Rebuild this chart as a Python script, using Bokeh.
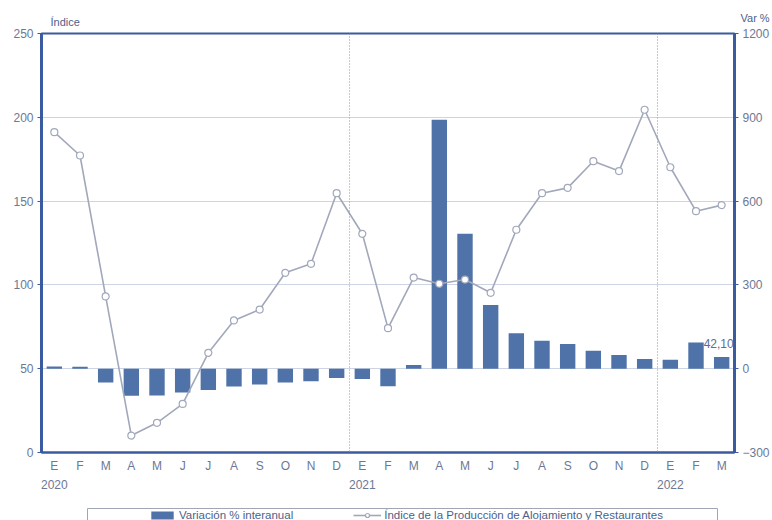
from bokeh.plotting import figure
from bokeh.layouts import column
from bokeh.models import (Range1d, LinearAxis, FixedTicker, Span, Label, Legend, LegendItem,
                          ColumnDataSource)
from bokeh.embed import file_html
from bokeh.resources import INLINE

months = ["E", "F", "M", "A", "M", "J", "J", "A", "S", "O", "N", "D",
          "E", "F", "M", "A", "M", "J", "J", "A", "S", "O", "N", "D",
          "E", "F", "M"]
years = ["2020", "2021", "2022"]
year_pos = [0, 12, 24]

indice = [191.1, 177.2, 93.1, 10.1, 17.7, 29.0, 59.5, 78.8, 85.3, 107.2, 112.6, 154.7,
          130.5, 74.2, 104.4, 100.7, 103.2, 95.3, 132.9, 154.7, 157.9, 173.8, 167.9, 204.5,
          170.2, 144.0, 147.6]
variacion = [8.0, 7.0, -49, -97, -96, -85, -76, -64, -57, -49, -45, -33,
             -37, -63, 13, 891, 483, 228, 127, 100, 88, 64, 49, 35,
             32, 94, 42.1]

AXIS = "#3b5ba0"
TICK = "#6b7896"
BAR = "#4f73a8"
LINE = "#a2a8bb"
GRID = "#cdd4e3"
TXT = "#4d5f8c"
FONT = "Liberation Sans"
W = 772


def bare(fig):
    fig.xaxis.visible = False
    fig.yaxis.visible = False
    fig.xgrid.visible = False
    fig.ygrid.visible = False
    fig.outline_line_color = None
    fig.background_fill_color = "white"
    fig.border_fill_color = "white"


# ---- header with the axis titles ----
head = figure(width=W, height=28, output_backend="svg", toolbar_location=None,
              x_range=Range1d(0, W), y_range=Range1d(0, 28), title=None,
              min_border=0, frame_align=False)
bare(head)
head.add_layout(Label(x=50, y=1, text="Índice", text_baseline="bottom", text_color=TXT,
                      text_font=FONT, text_font_size="11px"))
head.add_layout(Label(x=740, y=5, text="Var %", text_baseline="bottom", text_color=TXT,
                      text_font=FONT, text_font_size="11px"))

# ---- main chart ----
x = list(range(len(months)))
src = ColumnDataSource(dict(x=x, ind=indice, var=variacion))

p = figure(width=W, height=472, output_backend="svg", toolbar_location=None, title=None,
           x_range=Range1d(-0.5, 26.5), y_range=Range1d(0, 250), frame_align=False,
           min_border_left=41, min_border_right=36, min_border_top=5, min_border_bottom=48)
p.extra_y_ranges = {"var": Range1d(-300, 1200)}
p.background_fill_color = "white"
p.border_fill_color = "white"
p.outline_line_color = AXIS
p.outline_line_width = 2

p.yaxis.ticker = FixedTicker(ticks=[0, 50, 100, 150, 200, 250])
p.xaxis.ticker = FixedTicker(ticks=x)
p.xaxis.major_label_overrides = {i: m for i, m in enumerate(months)}

ax = p.yaxis[0]
ax.axis_line_color = AXIS
ax.axis_line_width = 3
ax.major_tick_line_color = AXIS
ax.major_tick_in = 0
ax.major_tick_out = 4
ax.minor_tick_line_color = None
ax.major_label_text_color = TICK
ax.major_label_text_font = FONT
ax.major_label_text_font_size = "12px"
ax.major_label_standoff = 4

xa = p.xaxis[0]
xa.axis_line_color = AXIS
xa.axis_line_width = 2
xa.major_tick_line_color = None
xa.major_tick_in = 0
xa.major_tick_out = 0
xa.minor_tick_line_color = None
xa.major_label_text_color = TICK
xa.major_label_text_font = FONT
xa.major_label_text_font_size = "12px"
xa.major_label_standoff = 6

ya = LinearAxis(y_range_name="var", ticker=FixedTicker(ticks=[-300, 0, 300, 600, 900, 1200]))
ya.axis_line_color = AXIS
ya.axis_line_width = 3
ya.major_tick_line_color = AXIS
ya.major_tick_in = 0
ya.major_tick_out = 4
ya.minor_tick_line_color = None
ya.major_label_text_color = TICK
ya.major_label_text_font = FONT
ya.major_label_text_font_size = "12px"
ya.major_label_standoff = 4
p.add_layout(ya, "right")

yr = LinearAxis(ticker=FixedTicker(ticks=year_pos))
p.add_layout(yr, "below")
yr.major_label_overrides = {pos: y for pos, y in zip(year_pos, years)}
yr.axis_line_color = None
yr.major_tick_line_color = None
yr.major_tick_in = 0
yr.major_tick_out = 0
yr.minor_tick_line_color = None
yr.major_label_text_color = TICK
yr.major_label_text_font = FONT
yr.major_label_text_font_size = "12px"
yr.major_label_standoff = 4

p.xgrid.grid_line_color = None
p.ygrid.ticker = FixedTicker(ticks=[50, 100, 150, 200])
p.ygrid.grid_line_color = GRID
p.ygrid.grid_line_width = 1

for yp in year_pos[1:]:
    p.add_layout(Span(location=yp - 0.5, dimension="height", line_color="#8090b5",
                      line_dash="1 2", line_width=1))

bars = p.vbar(x="x", top="var", bottom=0, width=0.6, source=src, y_range_name="var",
              fill_color=BAR, line_color=None)
ln = p.line("x", "ind", source=src, line_color=LINE, line_width=1.6)
mk = p.scatter("x", "ind", source=src, size=7, marker="circle", fill_color="white",
               line_color=LINE, line_width=1.2)

p.add_layout(Label(x=x[-1], y=variacion[-1], y_range_name="var",
                   text="42,10", text_align="center", text_baseline="bottom",
                   x_offset=-3, y_offset=9, text_color="#5d6c92", text_font=FONT,
                   text_font_size="12px"))

# ---- legend strip ----
leg = figure(width=W, height=20, output_backend="svg", toolbar_location=None, title=None,
             x_range=Range1d(0, W), y_range=Range1d(0, 20), min_border=0, frame_align=False)
bare(leg)
leg.quad(left=[87], right=[717], bottom=[-5], top=[12], fill_color="white",
         line_color="#a0a6b6", line_width=1)
nan = float("nan")
dummy = ColumnDataSource(dict(x=[nan], y=[nan]))
lb = leg.vbar(x="x", top="y", width=1, source=dummy, fill_color=BAR, line_color=None)
ll = leg.line("x", "y", source=dummy, line_color=LINE, line_width=1.6)
lm = leg.scatter("x", "y", source=dummy, size=7, marker="circle", fill_color="white",
                 line_color=LINE, line_width=1.2)
legend = Legend(items=[LegendItem(label="Variación % interanual", renderers=[lb]),
                       LegendItem(label="Índice de la Producción de Alojamiento y Restaurantes",
                                  renderers=[ll, lm])],
                orientation="horizontal", location=(148, -1), spacing=60,
                padding=0, margin=0, glyph_width=28, glyph_height=10, label_height=12,
                label_text_font=FONT, label_text_font_size="11.5px",
                label_text_color=TXT, border_line_color=None,
                label_standoff=3, background_fill_alpha=0)
leg.add_layout(legend, "center")

layout = column(head, p, leg, spacing=0)
open("out.html", "w").write(file_html(layout, INLINE))
